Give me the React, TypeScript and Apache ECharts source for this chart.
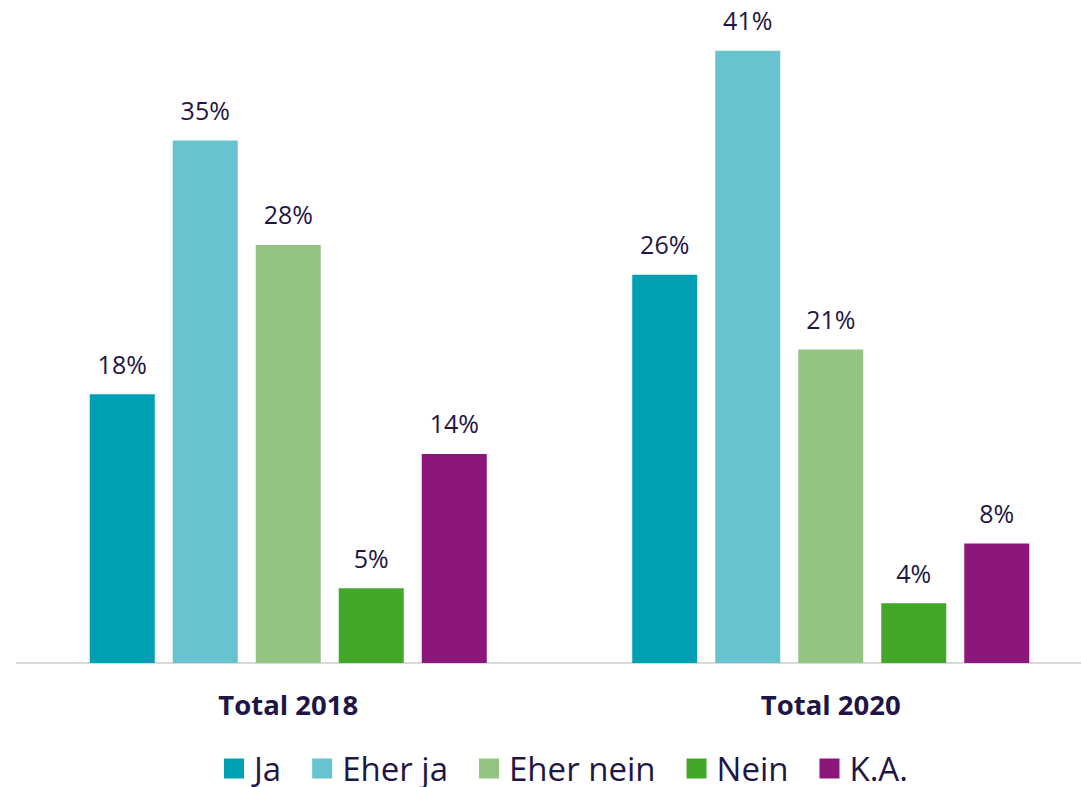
import React, { useEffect, useRef } from "react";
import * as echarts from "echarts";

const categories = ["Total 2018", "Total 2020"];
const seriesNames = ["Ja", "Eher ja", "Eher nein", "Nein", "K.A."];
const ja = [18, 26];
const eherJa = [35, 41];
const eherNein = [28, 21];
const nein = [5, 4];
const ka = [14, 8];
const colors = ["#00A0B4", "#67C3CD", "#93C482", "#43A72A", "#8C1679"];

const TEXT = "#1F1646";
const FONT = "'Open Sans', Lato, sans-serif";

export default function App() {
  const ref = useRef<HTMLDivElement>(null);
  useEffect(() => {
    if (!ref.current) return;
    const chart = echarts.init(ref.current, null, { renderer: "svg" });
    const values = [ja, eherJa, eherNein, nein, ka];
    chart.setOption({
      animation: false,
      backgroundColor: "#ffffff",
      grid: { left: 17, right: 0, top: 6, bottom: 124 },
      legend: {
        left: 224,
        top: 752,
        padding: 0,
        itemWidth: 20,
        itemHeight: 20,
        itemGap: 31,
        icon: "rect",
        data: seriesNames,
        textStyle: {
          color: TEXT,
          fontSize: 33,
          lineHeight: 33,
          fontFamily: FONT,
          padding: [0, 0, 0, 5],
        },
      },
      xAxis: {
        type: "category",
        data: categories,
        axisLine: { show: true, lineStyle: { color: "#D9D9D9", width: 2 } },
        axisTick: { show: false },
        axisLabel: {
          color: TEXT,
          fontSize: 27.5,
          fontWeight: "bold",
          fontFamily: FONT,
          margin: 27,
        },
      },
      yAxis: {
        type: "value",
        min: 0,
        max: 44,
        show: false,
        splitLine: { show: false },
      },
      series: seriesNames.map((name, i) => ({
        name,
        type: "bar",
        data: values[i],
        barWidth: 65,
        barGap: "27.7%",
        itemStyle: { color: colors[i] },
        label: {
          show: true,
          position: "top",
          distance: 18,
          formatter: "{c}%",
          color: TEXT,
          fontSize: 25,
          fontFamily: FONT,
        },
      })),
    });
    return () => chart.dispose();
  }, []);
  return (
    <div style={{ position: "absolute", left: 0, top: 0, width: 1081, height: 787, overflow: "hidden", background: "#fff" }}>
      <div ref={ref} style={{ width: 1102, height: 787 }} />
    </div>
  );
}
